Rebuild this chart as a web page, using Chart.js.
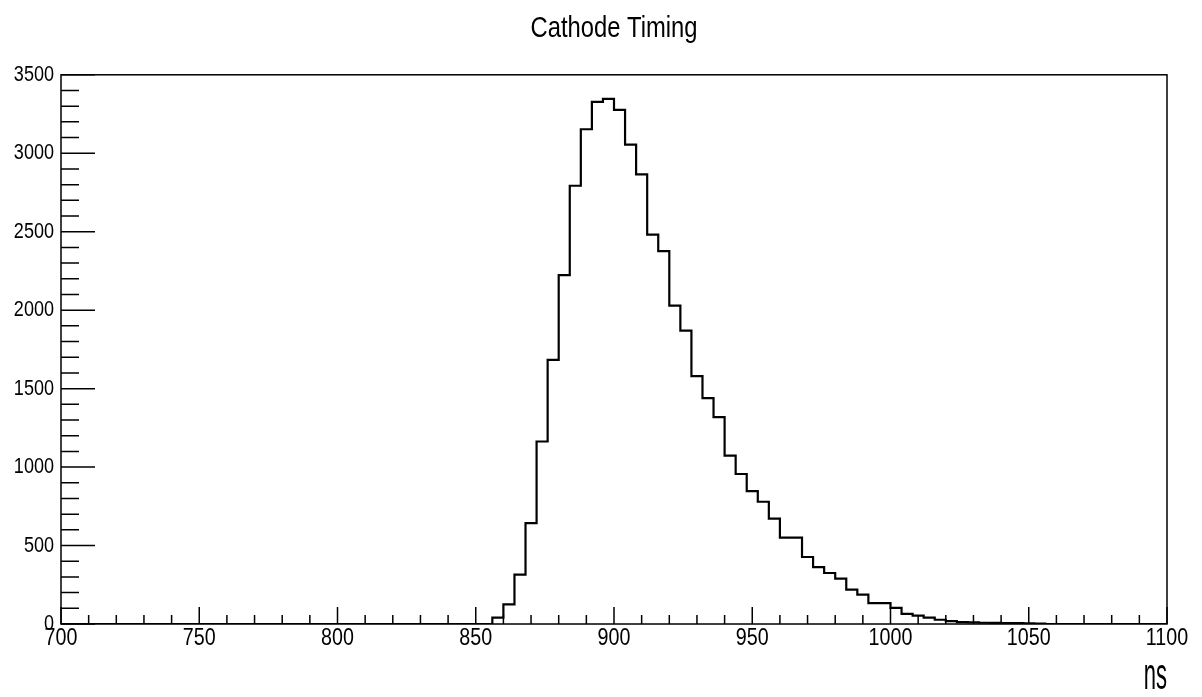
<!DOCTYPE html>
<html>
<head>
<meta charset="utf-8">
<script src="https://cdn.jsdelivr.net/npm/chart.js@4.4.1/dist/chart.umd.min.js"></script>
<style>
  html, body { margin: 0; padding: 0; background: #fff; }
  canvas { display: block; }
</style>
</head>
<body>
<canvas id="chart" width="1202" height="697"></canvas>
<script>
// Cathode Timing histogram (100 bins of 4 ns, 700 - 1100 ns)
const binLow = 700;
const binWidth = 4;
const counts = [
    0, 0, 0, 0, 0, 0, 0, 0, 0, 0,          // 700 - 736
    0, 0, 0, 0, 0, 0, 0, 0, 0, 0,          // 740 - 776
    0, 0, 0, 0, 0, 0, 0, 0, 0, 0,          // 780 - 816
    0, 0, 0, 0, 0, 0, 0, 0, 0, 40,         // 820 - 856
    125, 315, 643, 1163, 1683, 2223, 2793, 3153, 3327, 3347,   // 860 - 896
    3276, 3055, 2866, 2481, 2376, 2029, 1870, 1580, 1440, 1318, // 900 - 936
    1073, 956, 847, 779, 672, 551, 551, 427, 363, 325,          // 940 - 976
    289, 219, 187, 133, 133, 103, 65, 54, 40, 27,               // 980 - 1016
    18, 12, 10, 8, 7, 6, 5, 4, 3, 0,                            // 1020 - 1056
    0, 0, 0, 0, 0, 0, 0, 0, 0, 0                                // 1060 - 1096
];
const xTickValues = [700, 750, 800, 850, 900, 950, 1000, 1050, 1100];
const yTickValues = [0, 500, 1000, 1500, 2000, 2500, 3000, 3500];
const xMinorStep = 10;
const yMinorStep = 100;

const titleText = 'Cathode Timing';
const xTitle = 'ns';

const FONT = "'Liberation Sans', Arial, sans-serif";

// histogram outline: one point per bin low edge, plus the last upper edge
const points = counts.map((c, i) => ({ x: binLow + i * binWidth, y: c }));
points.push({ x: binLow + counts.length * binWidth, y: counts[counts.length - 1] });

// the reference uses a narrow face; squeeze the text horizontally
const narrowText = {
    id: 'narrowText',
    beforeDraw(chart) {
        const ctx = chart.ctx;
        if (ctx._narrowed) return;
        const orig = ctx.fillText;
        ctx.fillText = function(text, x, y) {
            const squeeze = text === xTitle ? 0.5 : 0.82;
            const w = this.measureText(text).width;
            orig.call(this, text, x, y, w * squeeze);
        };
        ctx._narrowed = true;
    }
};

// ROOT style frame with inward ticks
const rootFrame = {
    id: 'rootFrame',
    afterDraw(chart) {
        const ctx = chart.ctx;
        const area = chart.chartArea;
        const xs = chart.scales.x;
        const ys = chart.scales.y;
        ctx.save();
        ctx.strokeStyle = '#000';
        ctx.lineWidth = 1.5;
        ctx.strokeRect(area.left, area.top, area.right - area.left, area.bottom - area.top);

        ctx.beginPath();
        for (let v = xs.min; v <= xs.max; v += xMinorStep) {
            const px = xs.getPixelForValue(v);
            const len = xTickValues.includes(v) ? 17 : 9;
            ctx.moveTo(px, area.bottom);
            ctx.lineTo(px, area.bottom - len);
        }
        for (let v = ys.min; v <= ys.max; v += yMinorStep) {
            const py = ys.getPixelForValue(v);
            const len = yTickValues.includes(v) ? 34 : 18;
            ctx.moveTo(area.left, py);
            ctx.lineTo(area.left + len, py);
        }
        ctx.stroke();
        ctx.restore();
    }
};

new Chart(document.getElementById('chart'), {
    type: 'line',
    data: {
        datasets: [{
            label: titleText,
            data: points,
            borderColor: '#000',
            borderWidth: 2.2,
            stepped: 'before',
            fill: false,
            pointRadius: 0,
            tension: 0
        }]
    },
    options: {
        responsive: false,
        animation: false,
        layout: {
            padding: { left: 0, right: 35, top: 0, bottom: 0 }
        },
        plugins: {
            legend: { display: false },
            tooltip: { enabled: false },
            title: {
                display: true,
                text: titleText,
                fullSize: false,
                color: '#000',
                font: { family: FONT, size: 29, weight: 'normal' },
                padding: { top: 12, bottom: 28 }
            }
        },
        scales: {
            x: {
                type: 'linear',
                min: 700,
                max: 1100,
                grid: { display: false, drawTicks: false },
                border: { display: false },
                afterBuildTicks: s => { s.ticks = xTickValues.map(v => ({ value: v })); },
                afterFit: s => { s.height = 73; },
                ticks: {
                    color: '#000',
                    padding: 0,
                    maxRotation: 0,
                    autoSkip: false,
                    font: { family: FONT, size: 24 },
                    callback: v => String(v)
                },
                title: {
                    display: true,
                    text: xTitle,
                    align: 'end',
                    color: '#000',
                    font: { family: FONT, size: 44, lineHeight: 0.9 },
                    padding: { top: 0, bottom: 0 }
                }
            },
            y: {
                min: 0,
                max: 3500,
                grid: { display: false, drawTicks: false },
                border: { display: false },
                afterBuildTicks: s => { s.ticks = yTickValues.map(v => ({ value: v })); },
                afterFit: s => { s.width = 61; },
                ticks: {
                    color: '#000',
                    padding: 7,
                    font: { family: FONT, size: 22 },
                    callback: v => String(v)
                }
            }
        }
    },
    plugins: [narrowText, rootFrame]
});
</script>
</body>
</html>
